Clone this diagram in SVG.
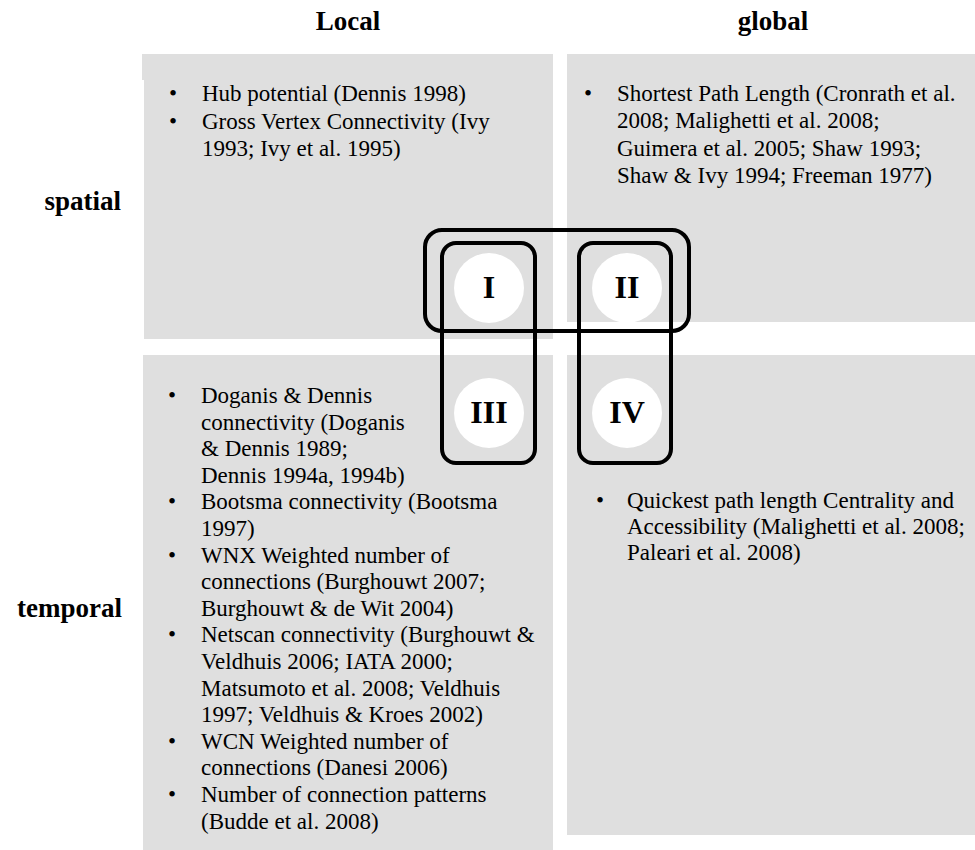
<svg xmlns="http://www.w3.org/2000/svg" width="975" height="850" viewBox="0 0 975 850">
<style>
.panel{fill:#dfdfdf;}
.hdr{font-family:"Liberation Serif","Times New Roman",serif;font-weight:bold;font-size:27px;fill:#000;}
.t{font-family:"Liberation Serif","Times New Roman",serif;font-size:23px;fill:#000;}
.num{font-family:"Liberation Serif","Times New Roman",serif;font-weight:bold;font-size:32px;fill:#000;text-anchor:middle;}
.circ{fill:#ffffff;}
.grp{fill:none;stroke:#000;stroke-width:4;}
</style>
<rect width="975" height="850" fill="#ffffff"/>

<g id="headers">
  <text class="hdr" x="348" y="30" text-anchor="middle">Local</text>
  <text class="hdr" x="773" y="30" text-anchor="middle">global</text>
  <text class="hdr" x="121" y="210" text-anchor="end">spatial</text>
  <text class="hdr" x="122" y="617" text-anchor="end">temporal</text>
</g>

<g id="panel-spatial-local">
  <path class="panel" d="M142 54 H553 V339 H144 V80 H142 Z"/>
  <text class="t" x="169" y="101">•</text>
  <text class="t" x="202" y="101">Hub potential (Dennis 1998)</text>
  <text class="t" x="169" y="129">•</text>
  <text class="t" x="202" y="129">Gross Vertex Connectivity (Ivy</text>
  <text class="t" x="202" y="156">1993; Ivy et al. 1995)</text>
</g>

<g id="panel-spatial-global">
  <rect class="panel" x="567" y="54" width="408" height="268"/>
  <text class="t" x="584" y="101">•</text>
  <text class="t" x="617" y="101">Shortest Path Length (Cronrath et al.</text>
  <text class="t" x="617" y="128">2008; Malighetti et al. 2008;</text>
  <text class="t" x="617" y="156">Guimera et al. 2005; Shaw 1993;</text>
  <text class="t" x="617" y="183">Shaw &amp; Ivy 1994; Freeman 1977)</text>
</g>

<g id="panel-temporal-local">
  <rect class="panel" x="143" y="355" width="410" height="495"/>
  <text class="t" x="168" y="403">•</text>
  <text class="t" x="201" y="403">Doganis &amp; Dennis</text>
  <text class="t" x="201" y="429.6">connectivity (Doganis</text>
  <text class="t" x="201" y="456.2">&amp; Dennis 1989;</text>
  <text class="t" x="201" y="482.8">Dennis 1994a, 1994b)</text>
  <text class="t" x="168" y="509.4">•</text>
  <text class="t" x="201" y="509.4">Bootsma connectivity (Bootsma</text>
  <text class="t" x="201" y="536">1997)</text>
  <text class="t" x="168" y="562.6">•</text>
  <text class="t" x="201" y="562.6">WNX Weighted number of</text>
  <text class="t" x="201" y="589.2">connections (Burghouwt 2007;</text>
  <text class="t" x="201" y="615.8">Burghouwt &amp; de Wit 2004)</text>
  <text class="t" x="168" y="642.4">•</text>
  <text class="t" x="201" y="642.4">Netscan connectivity (Burghouwt &amp;</text>
  <text class="t" x="201" y="669">Veldhuis 2006; IATA 2000;</text>
  <text class="t" x="201" y="695.6">Matsumoto et al. 2008; Veldhuis</text>
  <text class="t" x="201" y="722.2">1997; Veldhuis &amp; Kroes 2002)</text>
  <text class="t" x="168" y="748.8">•</text>
  <text class="t" x="201" y="748.8">WCN Weighted number of</text>
  <text class="t" x="201" y="775.4">connections (Danesi 2006)</text>
  <text class="t" x="168" y="802">•</text>
  <text class="t" x="201" y="802">Number of connection patterns</text>
  <text class="t" x="201" y="828.6">(Budde et al. 2008)</text>
</g>

<g id="panel-temporal-global">
  <rect class="panel" x="567" y="355" width="408" height="480"/>
  <text class="t" x="596" y="508">•</text>
  <text class="t" x="627" y="508">Quickest path length Centrality and</text>
  <text class="t" x="627" y="534">Accessibility (Malighetti et al. 2008;</text>
  <text class="t" x="627" y="560">Paleari et al. 2008)</text>
</g>

<g id="quadrant-I">
  <circle class="circ" cx="489" cy="288" r="35"/>
  <text class="num" x="489" y="298">I</text>
</g>
<g id="quadrant-II">
  <circle class="circ" cx="627" cy="288" r="35"/>
  <text class="num" x="627" y="298">II</text>
</g>
<g id="quadrant-III">
  <circle class="circ" cx="489" cy="413" r="35"/>
  <text class="num" x="489" y="423">III</text>
</g>
<g id="quadrant-IV">
  <circle class="circ" cx="627" cy="413" r="35"/>
  <text class="num" x="627" y="423">IV</text>
</g>

<g id="connectors">
  <rect class="grp" x="425" y="230" width="264" height="101" rx="17" ry="17"/>
  <rect class="grp" x="442" y="243" width="93" height="220" rx="14" ry="14"/>
  <rect class="grp" x="579" y="243" width="92" height="220" rx="14" ry="14"/>
</g>
</svg>
